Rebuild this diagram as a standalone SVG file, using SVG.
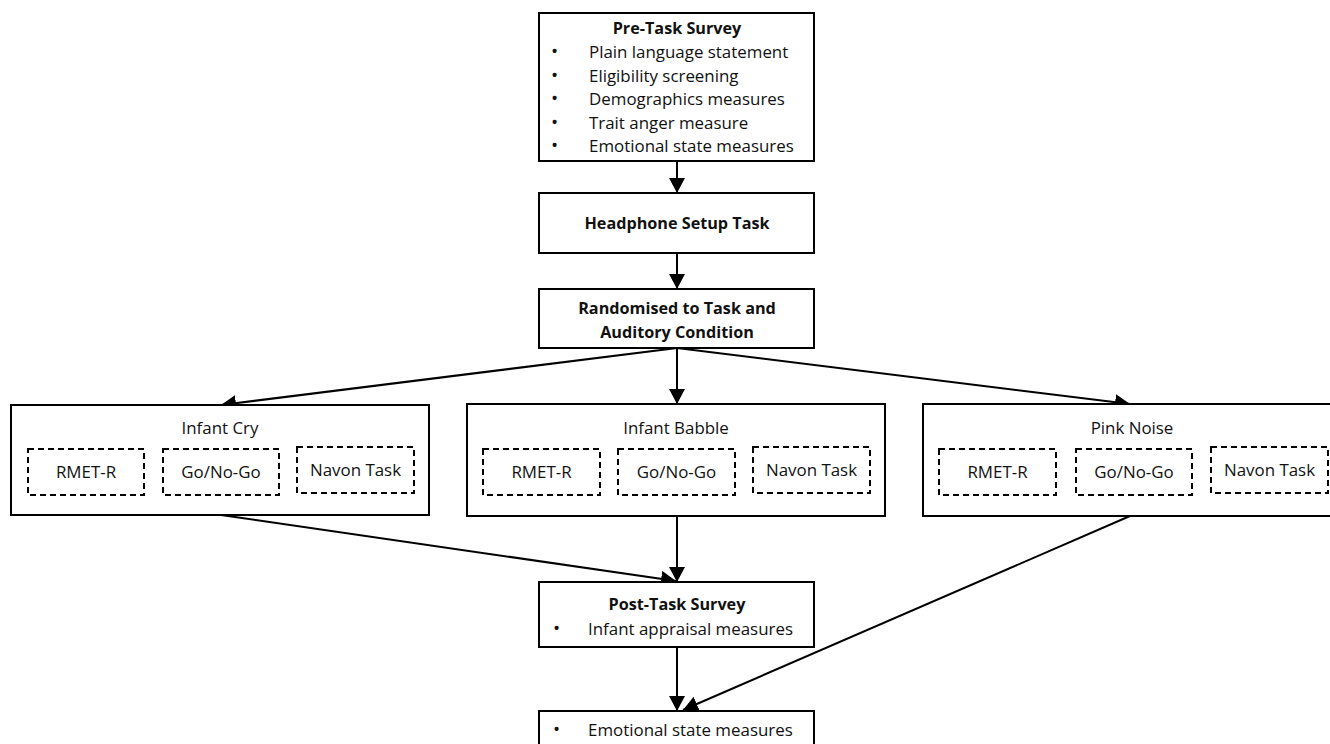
<svg xmlns="http://www.w3.org/2000/svg" width="1330" height="744" viewBox="0 0 1330 744">
<style>
.box{fill:#fff;stroke:#000;stroke-width:2}
.dash{fill:#fff;stroke:#000;stroke-width:2;stroke-dasharray:6,4}
.t{font-family:"Open Sans","Liberation Sans",sans-serif;font-size:16.9px;fill:#111}
.b{font-weight:bold;font-size:16.2px}
.c{text-anchor:middle}
.bl{font-size:19px}
.conn{stroke:#000;stroke-width:2;fill:none;marker-end:url(#ah)}
</style>
<defs>
<marker id="ah" markerUnits="userSpaceOnUse" markerWidth="18" markerHeight="18" refX="15" refY="8" orient="auto">
<path d="M0,0 L15,8 L0,16 z" fill="#000"/>
</marker>
</defs>
<rect width="1330" height="744" fill="#fff"/>
<g id="connectors">
<line class="conn" x1="677" y1="161" x2="677" y2="193"/>
<line class="conn" x1="677" y1="253" x2="677" y2="289"/>
<line class="conn" x1="677" y1="348" x2="221" y2="405"/>
<line class="conn" x1="677" y1="348" x2="677" y2="404"/>
<line class="conn" x1="677" y1="348" x2="1130" y2="404"/>
<line class="conn" x1="221" y1="515" x2="676" y2="581"/>
<line class="conn" x1="677" y1="516" x2="677" y2="582"/>
<line class="conn" x1="677" y1="647" x2="677" y2="711"/>
<line class="conn" x1="1130" y1="516" x2="683" y2="710"/>
</g>
<g id="pre-task">
<rect class="box" x="539" y="13" width="275" height="148"/>
<text class="t b c" x="677" y="34">Pre-Task Survey</text>
<g class="t">
<text class="bl" x="551" y="58">•</text><text x="589" y="58">Plain language statement</text>
<text class="bl" x="551" y="81.5">•</text><text x="589" y="81.5">Eligibility screening</text>
<text class="bl" x="551" y="105">•</text><text x="589" y="105">Demographics measures</text>
<text class="bl" x="551" y="128.5">•</text><text x="589" y="128.5">Trait anger measure</text>
<text class="bl" x="551" y="152">•</text><text x="589" y="152">Emotional state measures</text>
</g>
</g>
<g id="headphone">
<rect class="box" x="539" y="193" width="275" height="60"/>
<text class="t b c" x="677" y="229">Headphone Setup Task</text>
</g>
<g id="randomised">
<rect class="box" x="539" y="289" width="275" height="59"/>
<text class="t b c" x="677" y="314">Randomised to Task and</text>
<text class="t b c" x="677" y="338">Auditory Condition</text>
</g>
<g id="infant-cry">
<rect class="box" x="11" y="405" width="418" height="110"/>
<text class="t c" x="220" y="434">Infant Cry</text>
<rect class="dash" x="28" y="449" width="116" height="46"/>
<text class="t c" x="86" y="478">RMET-R</text>
<rect class="dash" x="163" y="449" width="116" height="46"/>
<text class="t c" x="221" y="478">Go/No-Go</text>
<rect class="dash" x="297" y="447" width="117" height="46"/>
<text class="t c" x="355.5" y="476">Navon Task</text>
</g>
<g id="infant-babble">
<rect class="box" x="467" y="404" width="418" height="112"/>
<text class="t c" x="676" y="434">Infant Babble</text>
<rect class="dash" x="483" y="449" width="117" height="46"/>
<text class="t c" x="541.5" y="478">RMET-R</text>
<rect class="dash" x="618" y="449" width="117" height="46"/>
<text class="t c" x="676.5" y="478">Go/No-Go</text>
<rect class="dash" x="753" y="447" width="117" height="46"/>
<text class="t c" x="811.5" y="476">Navon Task</text>
</g>
<g id="pink-noise">
<rect class="box" x="923" y="404" width="420" height="112"/>
<text class="t c" x="1132" y="434">Pink Noise</text>
<rect class="dash" x="939" y="449" width="117" height="46"/>
<text class="t c" x="997.5" y="478">RMET-R</text>
<rect class="dash" x="1076" y="449" width="116" height="46"/>
<text class="t c" x="1134" y="478">Go/No-Go</text>
<rect class="dash" x="1211" y="447" width="117" height="46"/>
<text class="t c" x="1269.5" y="476">Navon Task</text>
</g>
<g id="post-task">
<rect class="box" x="539" y="582" width="275" height="65"/>
<text class="t b c" x="677" y="610">Post-Task Survey</text>
<text class="t bl" x="553" y="635">•</text><text class="t" x="588" y="635">Infant appraisal measures</text>
</g>
<g id="final">
<rect class="box" x="539" y="711" width="275" height="60"/>
<text class="t bl" x="553" y="736">•</text><text class="t" x="588" y="736">Emotional state measures</text>
</g>
</svg>
